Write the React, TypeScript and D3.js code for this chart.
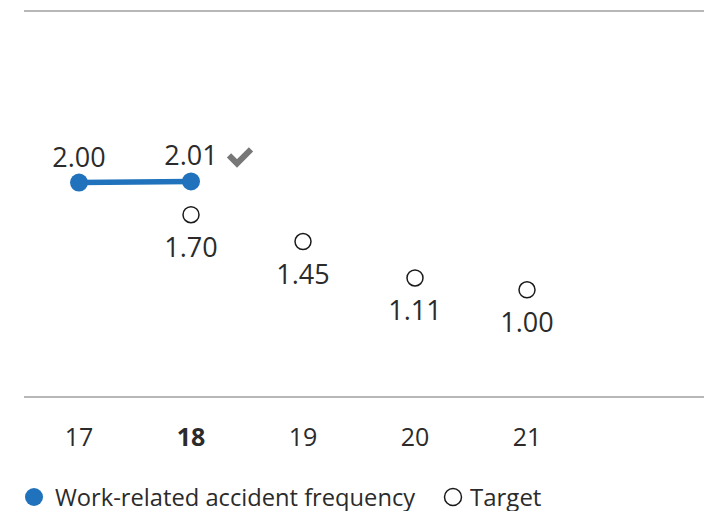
import React, { useEffect, useRef } from "react";
import * as d3 from "d3";

const years = ["17", "18", "19", "20", "21"];
const actualYears = ["17", "18"];
const actualValues = [2.0, 2.01];
const targetYears = ["18", "19", "20", "21"];
const targetValues = [1.7, 1.45, 1.11, 1.0];
const highlightYear = "18";

export default function App() {
  const ref = useRef<HTMLDivElement | null>(null);

  useEffect(() => {
    if (!ref.current) return;
    d3.select(ref.current).selectAll("svg").remove();

    const width = 714;
    const height = 511;
    const font = "'Open Sans', 'Noto Sans', sans-serif";
    const textColor = "#2b2b2b";
    const blue = "#1f72bb";

    const x = d3
      .scaleBand<string>()
      .domain([...years, ""])
      .range([23, 695]);
    const cx = (d: string) => (x(d) as number) + x.bandwidth() / 2;

    const y = d3.scaleLinear().domain([0, 3.6]).range([397, 11]);

    const svg = d3
      .select(ref.current)
      .append("svg")
      .attr("width", width)
      .attr("height", height)
      .style("display", "block")
      .style("font-family", font);

    svg
      .append("line")
      .attr("x1", 24)
      .attr("x2", 704)
      .attr("y1", y(3.6))
      .attr("y2", y(3.6))
      .attr("stroke", "#b8b8b8")
      .attr("stroke-width", 2);

    svg
      .append("line")
      .attr("x1", 24)
      .attr("x2", 704)
      .attr("y1", y(0))
      .attr("y2", y(0))
      .attr("stroke", "#a0a0a0")
      .attr("stroke-width", 1.5);

    // x labels
    svg
      .append("g")
      .selectAll("text")
      .data(years)
      .join("text")
      .attr("x", (d) => cx(d))
      .attr("y", 446)
      .attr("text-anchor", "middle")
      .attr("font-size", 25)
      .attr("font-weight", (d) => (d === highlightYear ? 700 : 400))
      .attr("fill", textColor)
      .text((d) => d);

    // actual line
    const pts = actualYears.map((d, i) => ({ year: d, value: actualValues[i] }));
    const line = d3
      .line<{ year: string; value: number }>()
      .x((d) => cx(d.year))
      .y((d) => y(d.value));

    svg
      .append("path")
      .datum(pts)
      .attr("d", line)
      .attr("fill", "none")
      .attr("stroke", blue)
      .attr("stroke-width", 5.5);

    svg
      .append("g")
      .selectAll("circle")
      .data(pts)
      .join("circle")
      .attr("cx", (d) => cx(d.year))
      .attr("cy", (d) => y(d.value))
      .attr("r", 9)
      .attr("fill", blue);

    svg
      .append("g")
      .selectAll("text")
      .data(pts)
      .join("text")
      .attr("x", (d) => cx(d.year))
      .attr("y", (d) => y(d.value) - 16)
      .attr("text-anchor", "middle")
      .attr("font-size", 27)
      .attr("fill", textColor)
      .text((d) => d.value.toFixed(2));

    // check mark next to last actual
    const last = pts[pts.length - 1];
    svg
      .append("polyline")
      .attr(
        "transform",
        `translate(${cx(last.year) + 38},${y(last.value) - 35})`
      )
      .attr("points", "0,9 8,17 22,3")
      .attr("fill", "none")
      .attr("stroke", "#777777")
      .attr("stroke-width", 6);

    // targets
    const tg = targetYears.map((d, i) => ({ year: d, value: targetValues[i] }));
    svg
      .append("g")
      .selectAll("circle")
      .data(tg)
      .join("circle")
      .attr("cx", (d) => cx(d.year))
      .attr("cy", (d) => y(d.value))
      .attr("r", 8)
      .attr("fill", "#fff")
      .attr("stroke", "#1a1a1a")
      .attr("stroke-width", 1.5);

    svg
      .append("g")
      .selectAll("text")
      .data(tg)
      .join("text")
      .attr("x", (d) => cx(d.year))
      .attr("y", (d) => y(d.value) + 42)
      .attr("text-anchor", "middle")
      .attr("font-size", 27)
      .attr("fill", textColor)
      .text((d) => d.value.toFixed(2));

    // legend
    const lg = svg.append("g").attr("transform", "translate(0,497)");
    lg.append("circle").attr("cx", 34).attr("cy", 0).attr("r", 9).attr("fill", blue);
    lg.append("text")
      .attr("x", 55)
      .attr("y", 8.5)
      .attr("font-size", 23.7)
      .attr("fill", textColor)
      .text("Work-related accident frequency");
    lg.append("circle")
      .attr("cx", 453)
      .attr("cy", 0)
      .attr("r", 8.5)
      .attr("fill", "#fff")
      .attr("stroke", "#1a1a1a")
      .attr("stroke-width", 1.5);
    lg.append("text")
      .attr("x", 470)
      .attr("y", 8.5)
      .attr("font-size", 24)
      .attr("fill", textColor)
      .text("Target");
  }, []);

  return (
    <div
      ref={ref}
      style={{ position: "absolute", left: 0, top: 0, overflow: "hidden" }}
    ></div>
  );
}
